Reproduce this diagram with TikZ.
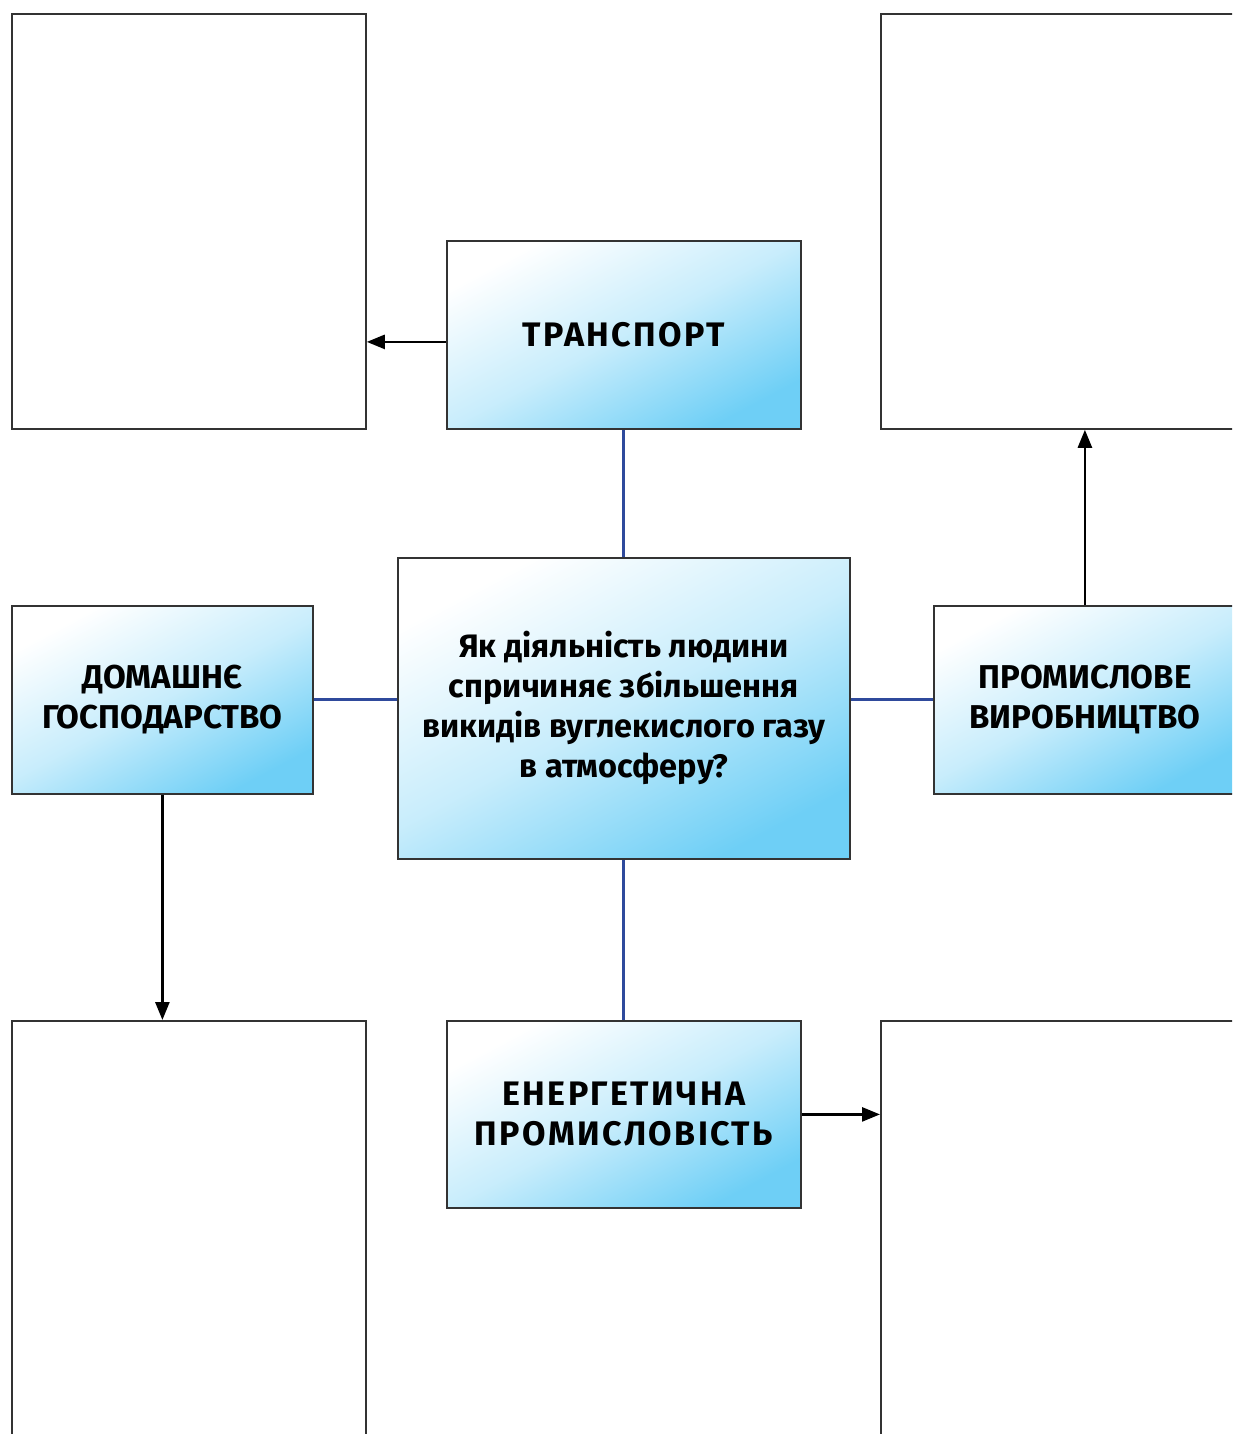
\documentclass[tikz,border=0pt]{standalone}
\usepackage{fontspec}
\setmainfont{Fira Sans}
\newfontfamily\spacedfont{Fira Sans}[LetterSpace=7]
\usetikzlibrary{arrows.meta}
\definecolor{boxblue}{HTML}{6ECFF6}
\definecolor{linkblue}{HTML}{2F4A9C}
\definecolor{edgegray}{HTML}{333333}
\tikzset{
  emptybox/.style={draw=edgegray, line width=1.8pt, fill=white, anchor=north west, inner sep=0pt},
  topic/.style={draw=edgegray, line width=1.8pt, anchor=north west, inner sep=0pt, align=center,
    shading=axis, top color=white, bottom color=boxblue, middle color=boxblue!38!white, shading angle=28,
    font=\fontsize{33}{40}\selectfont\bfseries},
  question/.style={font=\fontsize{32.5}{40}\selectfont\bfseries},
  spaced/.style={font=\fontsize{34}{40}\selectfont\bfseries\spacedfont},
  link/.style={draw=linkblue, line width=3pt},
  arr/.style={draw=black, line width=2.6pt, -{Triangle[length=18pt,width=14pt]}}
}
\begin{document}
\begin{tikzpicture}[x=1pt,y=-1pt]
\useasboundingbox (0,0) rectangle (1232,1434);
\clip (0,0) rectangle (1232,1434);
\fill[white] (0,0) rectangle (1232,1434);
\node[emptybox, minimum width=354pt, minimum height=415pt] (tl) at (11,13) {};
\node[emptybox, minimum width=400pt, minimum height=415pt] (tr) at (880,13) {};
\node[emptybox, minimum width=354pt, minimum height=500pt] (bl) at (11,1020) {};
\node[emptybox, minimum width=400pt, minimum height=500pt] (br) at (880,1020) {};
\node[topic, spaced, minimum width=354pt, minimum height=188pt] (trans) at (446,240) {ТРАНСПОРТ};
\node[topic, question, minimum width=452pt, minimum height=301pt] (center) at (397,557) {Як діяльність людини\\спричиняє збільшення\\викидів вуглекислого газу\\в атмосферу?};
\node[topic, minimum width=301pt, minimum height=188pt] (dom) at (11,605) {ДОМАШНЄ\\ГОСПОДАРСТВО};
\node[topic, minimum width=302pt, minimum height=188pt] (ind) at (933,605) {ПРОМИСЛОВЕ\\ВИРОБНИЦТВО};
\node[topic, spaced, minimum width=354pt, minimum height=187pt] (energy) at (446,1020) {ЕНЕРГЕТИЧНА\\ПРОМИСЛОВІСТЬ};
\draw[link] (trans.south) -- (center.north);
\draw[link] (center.south) -- (energy.north);
\draw[link] (center.west |- dom.east) -- (dom.east);
\draw[link] (center.east |- ind.west) -- (ind.west);
\draw[arr] ([yshift=-7pt]trans.west) -- ([yshift=-7pt]trans.west -| tl.east);
\draw[arr] (ind.north) -- (ind.north |- tr.south);
\draw[arr] (dom.south) -- (dom.south |- bl.north);
\draw[arr] (energy.east) -- (energy.east -| br.west);
\end{tikzpicture}
\end{document}
